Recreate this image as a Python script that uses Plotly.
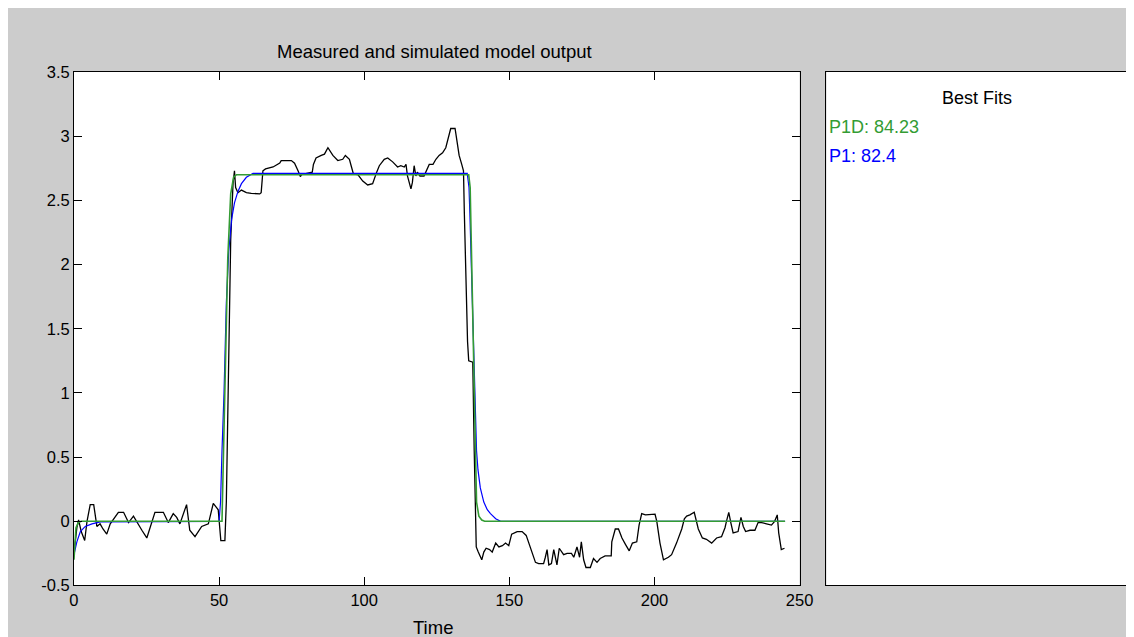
import plotly.graph_objects as go

# ---------------- data ----------------
meas_t = [0.0, 1.0, 1.6, 2.5, 3.7, 4.5, 5.6, 6.8, 7.9, 9.0, 10.0, 11.3, 12.5, 14.0, 15.3, 17.1,
          18.8, 20.5, 22.2, 23.4, 25.1, 26.5, 27.9, 30.8, 32.5, 34.2, 35.4, 36.5, 38.8, 39.9,
          41.7, 44.0, 46.3, 48.0, 49.7, 50.6, 52.0,
          52.5, 53.0, 53.5, 54.0, 54.8, 55.3, 55.7, 56.5, 57.7, 59.4, 61.1, 64.0, 64.5, 65.1,
          66.0, 68.6, 70.9, 71.4, 74.9, 76.0, 77.2, 78.0, 78.4, 82.1, 82.5, 83.4, 85.2, 86.3,
          87.5, 88.6, 89.2, 90.9, 92.6, 93.5, 94.9, 95.5, 96.3, 97.8, 99.5, 101.2, 102.9, 104.3,
          105.2, 106.9, 108.1, 109.8, 111.5, 112.6, 113.8, 114.4, 114.9, 116.1, 116.6, 117.2,
          117.8, 118.3, 119.2, 120.6, 121.8, 122.4, 123.7, 124.7, 125.8, 127.0, 128.1, 129.0,
          129.8, 131.3, 132.1, 132.7, 133.6, 134.2,
          134.5, 135.0, 135.6, 136.0, 137.4, 137.9, 138.2, 138.6,
          139.3, 140.5, 141.2, 142.0, 143.2, 144.1, 145.3, 146.4, 147.6, 148.7, 149.8, 150.8,
          152.7, 154.4, 155.8, 156.7, 157.9, 159.0, 160.1, 161.8, 162.4, 163.0, 163.6, 164.5,
          165.3, 166.4, 167.2, 168.7, 169.9, 171.4, 172.2, 173.3, 174.2, 174.8, 175.6, 176.4,
          177.9, 179.0, 180.2, 181.3, 183.0, 185.1, 185.3, 186.5, 187.6, 188.8, 190.0, 191.3,
          192.4, 193.9, 194.7, 195.6, 196.9, 200.2, 200.8, 201.9, 203.1, 204.8, 205.9, 207.6,
          209.4, 210.3, 211.1, 212.2, 213.7, 214.5, 215.1, 216.5, 217.9, 219.7, 221.4, 223.1,
          224.3, 224.8, 225.6, 226.3, 227.1, 228.8, 229.8, 230.6, 231.4, 232.9, 234.6, 235.7,
          236.9, 238.6, 240.3, 241.4, 242.3, 242.8, 243.7, 244.8]
meas_y = [-0.25, -0.05, 0.01, -0.08, -0.15, 0.0, 0.13, 0.13, -0.04, -0.02, -0.06, -0.10, -0.02, 0.03, 0.07, 0.07,
          -0.01, 0.04, -0.03, -0.07, -0.13, -0.02, 0.07, 0.07, -0.01, 0.06, 0.03, -0.02, 0.13, -0.07,
          -0.12, -0.04, -0.02, 0.14, 0.09, -0.15, -0.15,
          0.15, 0.95, 1.67, 2.19, 2.63, 2.73, 2.60, 2.56, 2.58, 2.56, 2.555, 2.55, 2.56, 2.73,
          2.745, 2.76, 2.79, 2.81, 2.81, 2.79, 2.73, 2.685, 2.70, 2.72, 2.78, 2.83, 2.85, 2.86,
          2.91, 2.87, 2.85, 2.81, 2.82, 2.85, 2.82, 2.77, 2.705, 2.70, 2.65, 2.62, 2.63, 2.72,
          2.77, 2.82, 2.83, 2.80, 2.76, 2.77, 2.76, 2.78, 2.69, 2.59, 2.64, 2.77,
          2.69, 2.72, 2.69, 2.69, 2.76, 2.78, 2.78, 2.82, 2.85, 2.87, 2.91, 2.98,
          3.06, 3.06, 2.95, 2.85, 2.78, 2.73,
          2.40, 1.90, 1.40, 1.25, 1.24, 0.55, 0.05, -0.20,
          -0.24, -0.30, -0.24, -0.21, -0.22, -0.24, -0.17, -0.20, -0.19, -0.17, -0.19, -0.10,
          -0.08, -0.08, -0.11, -0.17, -0.25, -0.32, -0.33, -0.33, -0.28, -0.22, -0.34, -0.33,
          -0.22, -0.34, -0.21, -0.26, -0.25, -0.25, -0.28, -0.20, -0.28, -0.16, -0.30, -0.36,
          -0.36, -0.29, -0.32, -0.29, -0.27, -0.27, -0.16, -0.06, -0.06, -0.13, -0.18, -0.23,
          -0.17, -0.16, -0.03, 0.06, 0.05, 0.055, 0.0, -0.17, -0.30, -0.28, -0.26, -0.17,
          -0.06, 0.02, 0.04, 0.05, 0.07, 0.0, -0.06, -0.13, -0.14, -0.17, -0.13, -0.12,
          -0.05, 0.0, 0.07, -0.01, -0.09, -0.08, 0.03, -0.04, -0.08, -0.07, -0.07, -0.01,
          -0.01, -0.02, -0.03, 0.0, 0.05, -0.09, -0.22, -0.21]

p1_t = [0.0, 1.0, 2.2, 3.9, 6.2, 9.1, 50.0, 50.5, 51.0, 51.7, 52.5, 53.3, 54.3, 55.3, 56.5,
        57.7, 59.4, 61.7, 135.5, 136.1, 136.4, 136.9, 137.3, 137.7, 138.2, 138.7, 139.2, 140.0,
        141.2, 142.4, 143.5, 145.3, 147.0, 245.0]
p1_y = [-0.26, -0.16, -0.08, -0.04, -0.02, -0.005, 0.0, 0.15, 0.55, 1.0, 1.7, 2.1, 2.35, 2.48, 2.57,
        2.63, 2.68, 2.71, 2.71, 2.60, 2.40, 2.00, 1.74, 1.35, 0.92, 0.55, 0.40, 0.26,
        0.15, 0.09, 0.06, 0.02, 0.0, 0.0]

p1d_t = [0.0, 0.7, 1.5, 2.5, 51.0, 52.0, 53.0, 54.0, 55.0, 56.0, 136.0, 136.5, 137.3, 138.0,
         138.7, 139.5, 140.5, 141.5, 245.0]
p1d_y = [-0.30, -0.05, -0.01, 0.0, 0.0, 1.05, 2.05, 2.55, 2.68, 2.70, 2.70, 2.60, 1.70, 0.90,
         0.15, 0.04, 0.01, 0.0, 0.0]

x_ticks = [0, 50, 100, 150, 200, 250]
y_ticks = [-0.5, 0, 0.5, 1, 1.5, 2, 2.5, 3, 3.5]
y_tick_text = ["-0.5", "0", "0.5", "1", "1.5", "2", "2.5", "3", "3.5"]

fit_labels = ["P1D: 84.23", "P1: 82.4"]

# ---------------- figure ----------------
W, H = 1134, 637
FONT = "Liberation Sans, Arial, sans-serif"
GREEN = "#339c33"
BLUE = "#0000ff"

def px(x):
    return x / W

def py(y):
    return 1 - y / H

fig = go.Figure()
fig.add_trace(go.Scatter(x=meas_t, y=meas_y, mode="lines",
                         line=dict(color="black", width=1.3), showlegend=False))
fig.add_trace(go.Scatter(x=p1_t, y=p1_y, mode="lines",
                         line=dict(color=BLUE, width=1.2), showlegend=False))
fig.add_trace(go.Scatter(x=p1d_t, y=p1d_y, mode="lines",
                         line=dict(color=GREEN, width=1.6), showlegend=False))

axis_common = dict(showline=True, linecolor="black", linewidth=1, mirror="ticks",
                   ticks="inside", ticklen=8, tickcolor="black", showgrid=False,
                   zeroline=False, tickfont=dict(family=FONT, size=16.5, color="black"))

fig.update_layout(
    width=W, height=H,
    margin=dict(l=0, r=0, t=0, b=0),
    paper_bgcolor="#cccccc",
    plot_bgcolor="white",
    font=dict(family=FONT, color="black"),
    showlegend=False,
    xaxis=dict(domain=[px(62), px(800)], range=[0, 250], tickvals=x_ticks,
               anchor="y", **axis_common),
    yaxis=dict(domain=[py(585), py(56.6)], range=[-0.5, 3.5], tickvals=y_ticks,
               ticktext=y_tick_text, anchor="x", **axis_common),
    xaxis2=dict(domain=[px(827.3), px(1132.5)], range=[0, 1], showline=True, mirror=True,
                linecolor="black", linewidth=1, showticklabels=False, ticks="",
                showgrid=False, zeroline=False, anchor="y2"),
    yaxis2=dict(domain=[py(585), py(56.6)], range=[0, 1], showline=True, mirror=True,
                linecolor="black", linewidth=1, showticklabels=False, ticks="",
                showgrid=False, zeroline=False, anchor="x2"),
)

# dummy trace to make the right panel exist
fig.add_trace(go.Scatter(x=[None], y=[None], xaxis="x2", yaxis="y2", showlegend=False))

ann = [
    dict(text="Measured and simulated model output", x=px(429), y=py(35),
         font=dict(size=18.5, family=FONT, color="black"), xanchor="center"),
    dict(text="Time", x=px(427), y=py(628),
         font=dict(size=18.5, family=FONT, color="black"), xanchor="center"),
    dict(text="Best Fits", x=px(980.4), y=py(83.4),
         font=dict(size=18, family=FONT, color="black"), xanchor="center"),
    dict(text=fit_labels[0], x=px(828.3), y=py(113.2),
         font=dict(size=18, family=FONT, color=GREEN), xanchor="left"),
    dict(text=fit_labels[1], x=px(828.3), y=py(143),
         font=dict(size=18, family=FONT, color=BLUE), xanchor="left"),
]
for a in ann:
    fig.add_annotation(xref="paper", yref="paper", yanchor="middle", showarrow=False, **a)

fig.write_html("out.html")
